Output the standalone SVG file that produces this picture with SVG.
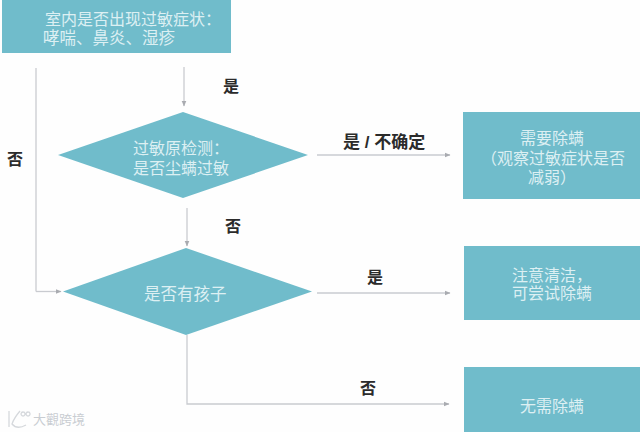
<svg xmlns="http://www.w3.org/2000/svg" width="640" height="432" viewBox="0 0 640 432">
<defs>
<marker id="arr" viewBox="0 0 6 6" refX="5.5" refY="3" markerWidth="6" markerHeight="6" markerUnits="userSpaceOnUse" orient="auto"><path d="M0 0.5L6 3L0 5.500Z" fill="#a9abb0"/></marker>
</defs>
<style>
.n{fill:#70bccb}
.c{fill:none;stroke:#c9cbd0;stroke-width:1.300}
.ca{marker-end:url(#arr)}
text{font-family:"Liberation Sans","Noto Sans CJK SC",sans-serif;font-size:16px}
.t{fill:#e2f3f6;opacity:.95}
.l{fill:#2b2b2b;font-weight:700}
</style>
<rect width="640" height="432" fill="#fefefe"/>
<g id="connectors">
<path class="c ca" d="M184 67V106"/>
<path class="c" d="M36 68V291.500"/>
<path class="c ca" d="M36 291.500H61"/>
<path class="c ca" d="M187 208V246"/>
<path class="c ca" d="M317 155H450"/>
<path class="c ca" d="M317 293H450"/>
<path class="c ca" d="M187 335V404H449"/>
</g>
<g id="n-start"><rect class="n" x="2" y="0" width="229" height="53"/>
<text class="t"><tspan x="45" y="25">室内是否出现过敏症状：</tspan><tspan x="43" y="44" style="font-size:16.500px">哮喘、鼻炎、湿疹</tspan></text></g>
<g id="n-test"><path class="n" d="M183 112L308 155L183 198L58 155Z"/>
<text class="t"><tspan x="133" y="154">过敏原检测：</tspan><tspan x="133" y="174">是否尘螨过敏</tspan></text></g>
<g id="n-child"><path class="n" d="M186 248L312 291.500L186 335L63 291.500Z"/>
<text class="t" x="144" y="300" style="font-size:16.500px">是否有孩子</text></g>
<g id="n-need"><rect class="n" x="463" y="112" width="177" height="87"/>
<text class="t"><tspan x="520" y="144">需要除螨</tspan><tspan x="481" y="164">（观察过敏症状是否</tspan><tspan x="528" y="183">减弱）</tspan></text></g>
<g id="n-try"><rect class="n" x="464" y="246" width="176" height="74"/>
<text class="t"><tspan x="512" y="281">注意清洁，</tspan><tspan x="512" y="299">可尝试除螨</tspan></text></g>
<g id="n-none"><rect class="n" x="464" y="367" width="176" height="65"/>
<text class="t" x="520" y="412">无需除螨</text></g>
<g id="labels">
<text class="l" x="223" y="92">是</text>
<text class="l" x="7" y="165">否</text>
<text class="l" x="225" y="232">否</text>
<text class="l" x="343" y="148" style="font-size:17px">是 / 不确定</text>
<text class="l" x="367" y="283">是</text>
<text class="l" x="360" y="394">否</text>
</g>
<g id="watermark">
<path d="M9 411V427M20 411Q14 418 12 424Q17 430 26 425M23 412a2 2 0 1 0 .1 0M28 412a2 2 0 1 0 .1 0" fill="none" stroke="#d5d8dc" stroke-width="1.300"/>
<text x="33" y="424" fill="#c9cdd2" style="font-size:13px">大觀跨境</text>
</g>
</svg>
